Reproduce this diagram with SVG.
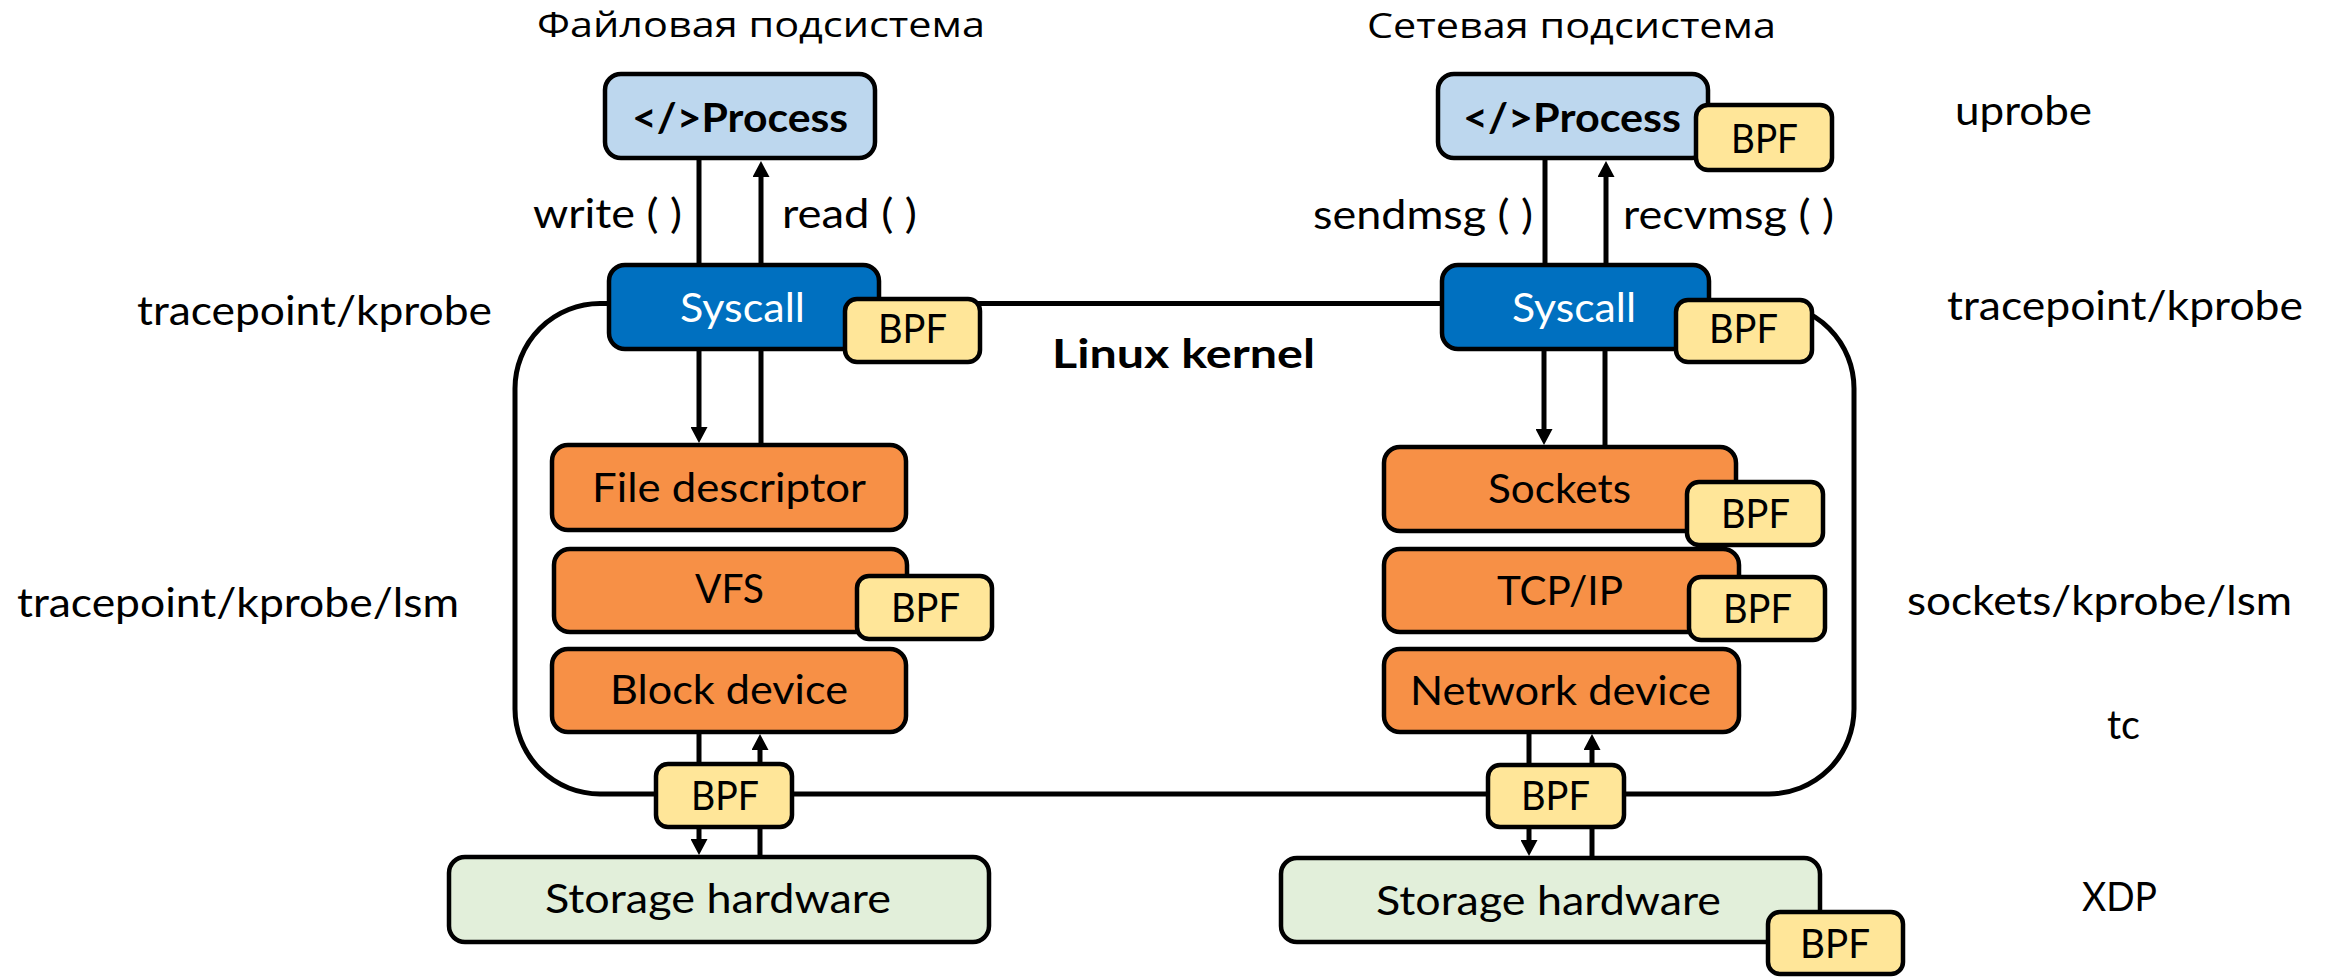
<svg xmlns="http://www.w3.org/2000/svg" width="2331" height="977" viewBox="0 0 2331 977">
  <defs>
    <marker id="arrow" viewBox="0 0 16 17" refX="8" refY="8.5" markerWidth="16" markerHeight="17" markerUnits="userSpaceOnUse" orient="auto">
      <path d="M0,0 L16,8.5 L0,17 Z" fill="#000"/>
    </marker>
    <style>
      text { font-family: Lato, "Open Sans", "Noto Sans", sans-serif; fill: #000; }
      .ru { font-family: "Open Sans", "Noto Sans", sans-serif; font-size: 35px; }
      .lbl { font-size: 41px; }
      .box { font-size: 40px; }
      .bold { font-weight: bold; }
      .white { fill: #fff; }
      .node { stroke: #000; stroke-width: 4.5; }
      .process { fill: #BDD7EE; }
      .syscall { fill: #0070C0; }
      .layer { fill: #F79046; }
      .bpf { fill: #FFE699; }
      .hw { fill: #E2EFDA; }
      .kernel { fill: none; stroke: #000; stroke-width: 5; }
      .wire { fill: none; stroke: #000; stroke-width: 5; }
      .wire.arr { marker-end: url(#arrow); }
    </style>
  </defs>
  <rect width="2331" height="977" fill="#fff"/>

  <!-- subsystem titles -->
  <text class="ru" x="537" y="37" textLength="448" lengthAdjust="spacingAndGlyphs">Файловая подсистема</text>
  <text class="ru" x="1367" y="38" textLength="409" lengthAdjust="spacingAndGlyphs">Сетевая подсистема</text>

  <!-- hook type labels -->
  <g id="hook-labels">
    <text class="lbl" x="137" y="325" textLength="355" lengthAdjust="spacingAndGlyphs">tracepoint/kprobe</text>
    <text class="lbl" x="17" y="617" textLength="442" lengthAdjust="spacingAndGlyphs">tracepoint/kprobe/lsm</text>
    <text class="lbl" x="1955" y="125" textLength="137" lengthAdjust="spacingAndGlyphs">uprobe</text>
    <text class="lbl" x="1947" y="320" textLength="356" lengthAdjust="spacingAndGlyphs">tracepoint/kprobe</text>
    <text class="lbl" x="1907" y="615" textLength="385" lengthAdjust="spacingAndGlyphs">sockets/kprobe/lsm</text>
    <text class="lbl" x="2107" y="739" textLength="33" lengthAdjust="spacingAndGlyphs">tc</text>
    <text class="lbl" x="2082" y="911" textLength="75" lengthAdjust="spacingAndGlyphs">XDP</text>
  </g>

  <!-- kernel boundary -->
  <g id="kernel">
    <rect class="kernel" x="515" y="303.5" width="1339" height="490.5" rx="85"/>
    <text class="box bold" x="1052" y="368" font-size="46" textLength="263" lengthAdjust="spacingAndGlyphs">Linux kernel</text>
  </g>

  <!-- call labels -->
  <g id="call-labels">
    <text class="lbl" x="533" y="228" textLength="149" lengthAdjust="spacingAndGlyphs">write ( )</text>
    <text class="lbl" x="782" y="228" textLength="135" lengthAdjust="spacingAndGlyphs">read ( )</text>
    <text class="lbl" x="1313" y="229" textLength="220" lengthAdjust="spacingAndGlyphs">sendmsg ( )</text>
    <text class="lbl" x="1623" y="229" textLength="211" lengthAdjust="spacingAndGlyphs">recvmsg ( )</text>
  </g>

  <!-- connectors -->
  <g id="connectors">
    <!-- file subsystem -->
    <line class="wire" x1="699" y1="158" x2="699" y2="265"/>
    <line class="wire arr" x1="761" y1="265" x2="761" y2="169"/>
    <line class="wire arr" x1="699" y1="349" x2="699" y2="435"/>
    <line class="wire" x1="761" y1="445" x2="761" y2="349"/>
    <line class="wire arr" x1="699" y1="732" x2="699" y2="847"/>
    <line class="wire arr" x1="760" y1="857" x2="760" y2="742"/>
    <!-- network subsystem -->
    <line class="wire" x1="1545" y1="158" x2="1545" y2="265"/>
    <line class="wire arr" x1="1606" y1="265" x2="1606" y2="169"/>
    <line class="wire arr" x1="1544" y1="349" x2="1544" y2="437"/>
    <line class="wire" x1="1605" y1="447" x2="1605" y2="349"/>
    <line class="wire arr" x1="1529" y1="732" x2="1529" y2="848"/>
    <line class="wire arr" x1="1592" y1="858" x2="1592" y2="742"/>
  </g>

  <!-- file subsystem nodes -->
  <g id="process-file">
    <rect class="node process" x="605" y="74" width="270" height="84" rx="16"/>
    <text class="box bold" x="632" y="132" textLength="216" lengthAdjust="spacingAndGlyphs">&lt;/&gt;Process</text>
  </g>
  <g id="syscall-file">
    <rect class="node syscall" x="609" y="265" width="270" height="84" rx="16"/>
    <text class="box white" x="680" y="322" textLength="125" lengthAdjust="spacingAndGlyphs">Syscall</text>
  </g>
  <g id="bpf-syscall-file">
    <rect class="node bpf" x="845" y="299" width="135" height="63" rx="12"/>
    <text class="box" x="878" y="343" textLength="69" lengthAdjust="spacingAndGlyphs">BPF</text>
  </g>
  <g id="file-descriptor">
    <rect class="node layer" x="552" y="445" width="354" height="85" rx="16"/>
    <text class="box" x="592" y="502" textLength="274" lengthAdjust="spacingAndGlyphs">File descriptor</text>
  </g>
  <g id="vfs">
    <rect class="node layer" x="554" y="549" width="353" height="83" rx="16"/>
    <text class="box" x="695" y="603" textLength="69" lengthAdjust="spacingAndGlyphs">VFS</text>
  </g>
  <g id="bpf-vfs">
    <rect class="node bpf" x="857" y="576" width="135" height="63" rx="12"/>
    <text class="box" x="891" y="622" textLength="69" lengthAdjust="spacingAndGlyphs">BPF</text>
  </g>
  <g id="block-device">
    <rect class="node layer" x="552" y="649" width="354" height="83" rx="16"/>
    <text class="box" x="610" y="704" textLength="238" lengthAdjust="spacingAndGlyphs">Block device</text>
  </g>
  <g id="bpf-block">
    <rect class="node bpf" x="656" y="764" width="136" height="63" rx="12"/>
    <text class="box" x="691" y="810" textLength="68" lengthAdjust="spacingAndGlyphs">BPF</text>
  </g>
  <g id="storage-file">
    <rect class="node hw" x="449" y="857" width="540" height="85" rx="16"/>
    <text class="box" x="545" y="913" textLength="346" lengthAdjust="spacingAndGlyphs">Storage hardware</text>
  </g>

  <!-- network subsystem nodes -->
  <g id="process-net">
    <rect class="node process" x="1438" y="74" width="270" height="84" rx="16"/>
    <text class="box bold" x="1463" y="132" textLength="218" lengthAdjust="spacingAndGlyphs">&lt;/&gt;Process</text>
  </g>
  <g id="bpf-process-net">
    <rect class="node bpf" x="1696" y="105" width="136" height="65" rx="12"/>
    <text class="box" x="1731" y="153" textLength="67" lengthAdjust="spacingAndGlyphs">BPF</text>
  </g>
  <g id="syscall-net">
    <rect class="node syscall" x="1442" y="265" width="267" height="84" rx="16"/>
    <text class="box white" x="1512" y="322" textLength="124" lengthAdjust="spacingAndGlyphs">Syscall</text>
  </g>
  <g id="bpf-syscall-net">
    <rect class="node bpf" x="1676" y="300" width="136" height="62" rx="12"/>
    <text class="box" x="1709" y="343" textLength="69" lengthAdjust="spacingAndGlyphs">BPF</text>
  </g>
  <g id="sockets">
    <rect class="node layer" x="1384" y="447" width="352" height="84" rx="16"/>
    <text class="box" x="1488" y="503" textLength="143" lengthAdjust="spacingAndGlyphs">Sockets</text>
  </g>
  <g id="bpf-sockets">
    <rect class="node bpf" x="1687" y="482" width="136" height="63" rx="12"/>
    <text class="box" x="1721" y="528" textLength="69" lengthAdjust="spacingAndGlyphs">BPF</text>
  </g>
  <g id="tcp-ip">
    <rect class="node layer" x="1384" y="549" width="355" height="83" rx="16"/>
    <text class="box" x="1497" y="605" textLength="126" lengthAdjust="spacingAndGlyphs">TCP/IP</text>
  </g>
  <g id="bpf-tcp-ip">
    <rect class="node bpf" x="1689" y="577" width="136" height="63" rx="12"/>
    <text class="box" x="1723" y="623" textLength="69" lengthAdjust="spacingAndGlyphs">BPF</text>
  </g>
  <g id="network-device">
    <rect class="node layer" x="1384" y="649" width="355" height="83" rx="16"/>
    <text class="box" x="1410" y="705" textLength="301" lengthAdjust="spacingAndGlyphs">Network device</text>
  </g>
  <g id="bpf-tc">
    <rect class="node bpf" x="1488" y="765" width="136" height="62" rx="12"/>
    <text class="box" x="1521" y="810" textLength="69" lengthAdjust="spacingAndGlyphs">BPF</text>
  </g>
  <g id="storage-net">
    <rect class="node hw" x="1281" y="858" width="539" height="84" rx="16"/>
    <text class="box" x="1376" y="915" textLength="345" lengthAdjust="spacingAndGlyphs">Storage hardware</text>
  </g>
  <g id="bpf-xdp">
    <rect class="node bpf" x="1768" y="912" width="135" height="62" rx="12"/>
    <text class="box" x="1800" y="958" textLength="70" lengthAdjust="spacingAndGlyphs">BPF</text>
  </g>
</svg>
